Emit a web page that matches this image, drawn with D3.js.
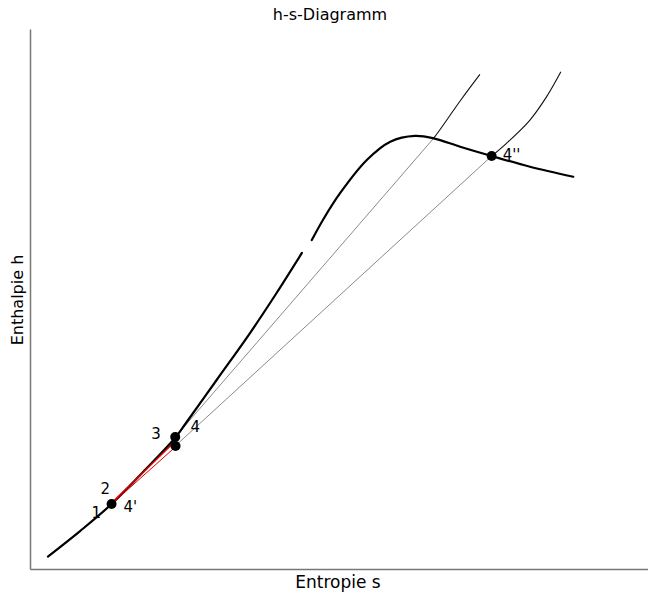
<!DOCTYPE html>
<html>
<head>
<meta charset="utf-8">
<script src="https://cdn.jsdelivr.net/npm/d3@7"></script>
<style>
  html, body { margin: 0; padding: 0; background: #fff; }
  svg { display: block; font-family: "DejaVu Sans", Verdana, sans-serif; }
</style>
</head>
<body>
<svg id="chart" width="648" height="595"></svg>
<script>
// Entropy s [kJ/(kg·K)] and enthalpy h [kJ/kg] pairs

// Saturation curve, liquid side (lower branch)
const satLiquid = [
  [0.29, 83], [0.81, 253], [1.32, 433], [1.83, 647], [2.35, 875],
  [2.51, 965], [3.02, 1260], [3.56, 1573], [3.99, 1840], [4.40, 2107]
];
// Saturation curve, upper branch through the maximum and the vapour side
const satVapour = [
  [4.56, 2193], [4.74, 2327], [5.02, 2507], [5.45, 2727], [5.83, 2849],
  [6.23, 2887], [6.53, 2871], [6.96, 2815], [7.47, 2753], [8.09, 2682], [8.79, 2615]
];
// Upper isobar: straight in the wet region, curved once superheated
const isobarHighWet = [[2.35, 880], [6.53, 2871]];
const isobarHighSuper = [[6.53, 2871], [6.63, 2927], [6.96, 3120], [7.28, 3297]];
// Lower isobar
const isobarLowWet = [[2.35, 820], [7.47, 2753]];
const isobarLowSuper = [[7.47, 2753], [7.71, 2838], [8.09, 2993], [8.36, 3149], [8.59, 3315]];
// Process lines 2 → 3 and 2 → 4
const processRed = [
  [[1.32, 440], [2.37, 860]],
  [[1.32, 433], [2.37, 820]]
];
// State points
const pointNames = ["1", "2", "4'", "3", "4", "4''"];
const pointS = [1.32, 1.32, 1.32, 2.35, 2.355, 7.47];
const pointH = [433, 433, 433, 880, 820, 2753];
const markerPoints = [[1.32, 433], [2.35, 880], [2.355, 820], [7.47, 2753]];

const svg = d3.select("#chart");
const x = d3.scaleLinear().domain([0, 10]).range([30, 648]);
const y = d3.scaleLinear().domain([0, 3600]).range([569, 29]);

// Axes without ticks
svg.append("g")
  .attr("transform", "translate(0,569)")
  .call(d3.axisBottom(x).ticks(0).tickSizeOuter(0))
  .select(".domain").attr("stroke", "#777").attr("stroke-width", 1.5);
svg.append("g")
  .attr("transform", "translate(30,0)")
  .call(d3.axisLeft(y).ticks(0).tickSizeOuter(0))
  .select(".domain").attr("stroke", "#777").attr("stroke-width", 1.5);

const smooth = d3.line().x(d => x(d[0])).y(d => y(d[1])).curve(d3.curveCatmullRom.alpha(0.5));
const straight = d3.line().x(d => x(d[0])).y(d => y(d[1]));

// Wet-region isobars (grey, straight)
[isobarHighWet, isobarLowWet].forEach(p => {
  svg.append("path").attr("d", straight(p))
    .attr("fill", "none").attr("stroke", "#8a8a8a").attr("stroke-width", 1);
});
// Superheated isobars (black, thin)
[isobarHighSuper, isobarLowSuper].forEach(p => {
  svg.append("path").attr("d", smooth(p))
    .attr("fill", "none").attr("stroke", "#111").attr("stroke-width", 1.1);
});
// Saturation curve
[satLiquid, satVapour].forEach(p => {
  svg.append("path").attr("d", smooth(p))
    .attr("fill", "none").attr("stroke", "#000").attr("stroke-width", 2.2)
    .attr("stroke-linecap", "round");
});
// Red process lines
processRed.forEach((p, i) => {
  svg.append("path").attr("d", straight(p))
    .attr("fill", "none").attr("stroke", "#e00000").attr("stroke-width", i === 0 ? 1.5 : 1);
});

// State point markers
svg.selectAll("circle.pt").data(markerPoints).join("circle")
  .attr("class", "pt")
  .attr("cx", d => x(d[0])).attr("cy", d => y(d[1]))
  .attr("r", 5).attr("fill", "#000");

// State point labels (offsets in pixels)
const labelDx = [-20, -11, 12, -24, 15, 11];
const labelDy = [14, -10, 8, 2, -14, 4];
pointNames.forEach((n, i) => {
  svg.append("text")
    .attr("x", x(pointS[i]) + labelDx[i])
    .attr("y", y(pointH[i]) + labelDy[i])
    .attr("font-size", 15).attr("fill", "#000")
    .text(n);
});

// Titles
svg.append("text").attr("x", 330).attr("y", 20).attr("text-anchor", "middle")
  .attr("font-size", 16).text("h-s-Diagramm");
svg.append("text").attr("x", 338).attr("y", 588).attr("text-anchor", "middle")
  .attr("font-size", 17).text("Entropie s");
svg.append("text").attr("transform", "translate(23,300) rotate(-90)")
  .attr("text-anchor", "middle").attr("font-size", 16).text("Enthalpie h");
</script>
</body>
</html>
